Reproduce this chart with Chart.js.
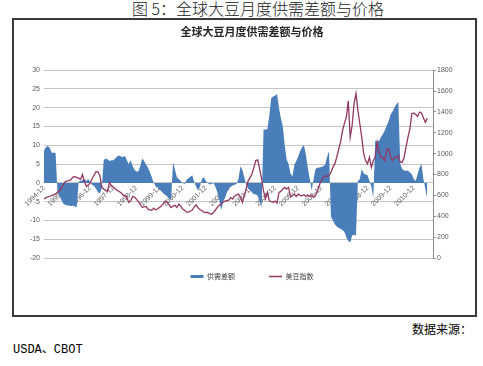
<!DOCTYPE html>
<html>
<head>
<meta charset="utf-8">
<script src="https://cdn.jsdelivr.net/npm/chart.js@4.4.0/dist/chart.umd.min.js"></script>
<style>
  body { margin: 0; width: 483px; height: 366px; background: #fff; overflow: hidden; position: relative; font-family: 'Noto Sans CJK SC', sans-serif; }
  #page-title { position: absolute; left: 132px; top: -1px; font-size: 16px; font-weight: 300; line-height: 18px; color: #222; white-space: nowrap; }
  #frame { position: absolute; left: 12px; top: 18px; width: 465px; height: 299px; box-sizing: border-box; border: 2px solid #3a3a3a; }
  #chart { position: absolute; left: 14px; top: 21px; }
  #source { position: absolute; left: 412px; top: 321px; font-size: 12px; line-height: 16px; color: #000; white-space: nowrap; }
  #source-names { position: absolute; left: 13px; top: 343px; font-family: 'Liberation Mono', 'Noto Sans CJK SC', monospace; font-size: 12px; line-height: 14px; color: #000; white-space: nowrap; }
</style>
</head>
<body>
<div id="page-title">图 5：全球大豆月度供需差额与价格</div>
<div id="frame"></div>
<canvas id="chart" width="462" height="294"></canvas>
<div id="source">数据来源：</div>
<div id="source-names">USDA、CBOT</div>
<script>
// year labels shown on the category axis
const tickLabels = ['1994-12', '1995-12', '1996-12', '1997-12', '1998-12', '1999-12', '2000-12', '2001-12',
  '2002-12', '2003-12', '2004-12', '2005-12', '2006-12', '2007-12', '2008-12', '2009-12', '2010-12']

// monthly categories, 1994-12 .. 2011-10
const months = []
for (let y = 1994, m = 12; months.length < 203;) {
  months.push(`${y}-${String(m).padStart(2, '0')}`)
  m++
  if (m > 12) { m = 1; y++ }
}

// 供需差额 (left axis)
const supplyGap = [
  8.6, 9.5, 9.8, 9.3, 8.0, 8.0, 8.0, -2.5, -3.5, -4.5,
  -5.5, -5.8, -6.0, -6.0, -6.2, -6.0, -6.3, -6.5, 0.3, 0.5,
  0.8, 1.0, 0.5, 1.0, 0.2, -0.5, -0.8, -1.5, -2.5, -2.8,
  -1.5, 6.0, 6.5, 6.3, 5.8, 6.0, 6.0, 6.5, 7.0, 7.3,
  7.0, 6.8, 7.2, 6.0, 5.0, 6.0, 4.5, 3.5, 3.0, 3.0,
  4.5, 6.5, 5.8, 4.8, 4.0, 2.8, 1.5, 0.0, -0.8, -1.2,
  -1.8, -2.2, -2.8, -3.2, -3.6, -4.2, -4.5, 5.5, 3.5, 1.5,
  1.0, 0.5, 0.0, -0.4, 0.8, 1.2, 1.6, 2.0, 0.3, -1.0,
  -2.0, -1.0, 1.0, 1.5, 0.5, 0.0, -0.4, -0.3, 0.0, -1.0,
  -2.5, -4.5, -7.3, -5.0, -4.0, -2.5, -1.5, -1.0, -0.7, -0.5,
  -0.3, 1.0, 4.4, 3.5, 1.5, -0.5, -1.5, -2.0, -2.5, -3.0,
  -3.0, -3.5, -5.0, -6.5, 14.2, 14.2, 14.3, 18.0, 22.5, 23.0,
  23.2, 23.7, 20.0, 17.2, 15.0, 10.0, 6.2, 5.0, 2.5, 1.7,
  4.8, 5.8, 7.0, 8.5, 9.5, 10.0, 7.5, 4.0, 1.0, -2.0,
  1.0, 3.7, 4.0, 4.1, 4.2, 4.4, 4.8, 6.9, 8.5, -9.0,
  -10.0, -11.0, -11.6, -12.0, -12.2, -12.6, -13.0, -14.5, -15.5, -15.9,
  -14.0, -13.8, -14.0, 0.5, 1.0, 3.7, 2.5, 2.2, 2.0, 0.5,
  -1.0, -4.0, 11.3, 11.0, 11.2, 12.2, 13.0, 14.0, 15.3, 16.5,
  18.2, 19.0, 20.0, 21.0, 21.5, 5.0, 3.7, 3.3, 3.2, 3.2,
  2.8, 2.3, 1.0, 0.5, 2.3, 4.0, 5.0, 1.0, -1.5, -4.3
]

// 美豆指数 (right axis)
const soyIndex = [
  565, 578, 585, 592, 600, 605, 615, 630, 645, 670,
  700, 730, 740, 742, 750, 775, 780, 772, 765, 755,
  800, 730, 690, 700, 720, 760, 795, 828, 826, 790,
  683, 660, 648, 638, 725, 695, 680, 662, 650, 638,
  625, 605, 595, 582, 532, 548, 590, 585, 565, 540,
  515, 486, 490, 494, 468, 462, 458, 478, 460, 472,
  485, 500, 520, 545, 535, 510, 484, 498, 505, 484,
  516, 498, 470, 458, 440, 440, 450, 460, 490, 510,
  480, 465, 455, 440, 436, 436, 425, 420, 436, 460,
  485, 505, 520, 535, 545, 550, 555, 578, 565, 595,
  605, 613, 581, 532, 600, 661, 740, 770, 805, 869,
  934, 940, 850, 760, 640, 565, 629, 549, 540, 535,
  545, 526, 629, 638, 661, 677, 661, 677, 585, 597,
  613, 590, 613, 600, 597, 606, 590, 605, 590, 600,
  581, 597, 645, 700, 740, 773, 789, 780, 790, 821,
  869, 902, 966, 1040, 1110, 1220, 1290, 1351, 1505, 1158,
  1270, 1479, 1576, 1415, 1287, 1158, 1000, 934, 902, 966,
  869, 934, 966, 1110, 1014, 966, 960, 934, 1046, 1046,
  966, 934, 966, 960, 982, 917, 917, 966, 1062, 1159,
  1238, 1383, 1390, 1376, 1358, 1399, 1390, 1345, 1300, 1340
]

const gapColor = '#4a7ebb'
const indexColor = '#943762'
const tickFont = { family: 'Liberation Sans', size: 7 }
const tickColor = '#595959'
const legendLift = 19

// the legend padding also sets its height, so pull the box back up under the plot
const liftLegend = {
  id: 'liftLegend',
  afterLayout (chart) {
    chart.legend.top -= legendLift
    chart.legend.bottom -= legendLift
  }
}

const chart = new Chart(document.getElementById('chart'), {
  type: 'line',
  data: {
    labels: months,
    datasets: [
      {
        label: '供需差额',
        data: supplyGap,
        yAxisID: 'y',
        fill: 'origin',
        backgroundColor: gapColor,
        borderColor: 'rgba(0,0,0,0)',
        borderWidth: 0,
        pointRadius: 0,
        order: 1
      },
      {
        label: '美豆指数',
        data: soyIndex,
        yAxisID: 'y1',
        fill: false,
        borderColor: indexColor,
        borderWidth: 1.3,
        pointRadius: 0,
        order: 0
      }
    ]
  },
  options: {
    responsive: false,
    animation: false,
    layout: { padding: { left: 14, right: 0, top: 0, bottom: 6 } },
    plugins: {
      title: {
        display: true,
        text: '全球大豆月度供需差额与价格',
        font: { family: 'Noto Sans CJK SC', size: 11, weight: 'bold' },
        color: '#262626',
        padding: { top: 4, bottom: 32 }
      },
      legend: {
        position: 'bottom',
        reverse: true,
        labels: {
          usePointStyle: true,
          pointStyle: 'line',
          pointStyleWidth: 13,
          padding: 34,
          font: { family: 'Noto Sans CJK SC', size: 7 },
          color: '#404040',
          generateLabels (chart) {
            const items = Chart.defaults.plugins.legend.labels.generateLabels(chart)
            items.forEach(item => {
              if (item.datasetIndex === 0) {
                item.strokeStyle = gapColor
                item.lineWidth = 3
              } else {
                item.lineWidth = 1.5
              }
            })
            return items
          }
        }
      },
      tooltip: { enabled: false }
    },
    scales: {
      x: {
        position: { y: 0 },
        grid: { display: false, drawTicks: false },
        border: { display: false },
        ticks: {
          autoSkip: false,
          minRotation: 45,
          maxRotation: 45,
          padding: 1,
          font: tickFont,
          color: tickColor,
          callback (value) {
            const m = months[value]
            return tickLabels.includes(m) ? m : ''
          }
        },
        afterFit (scale) { scale.height = 0 }
      },
      y: {
        position: 'left',
        min: -20,
        max: 30,
        ticks: { stepSize: 5, padding: 4, font: tickFont, color: tickColor },
        grid: { color: '#c4c4c4', drawTicks: false },
        border: { display: false },
        afterFit (scale) { scale.width = 16 }
      },
      y1: {
        position: 'right',
        min: 0,
        max: 1800,
        ticks: {
          stepSize: 200,
          padding: 1,
          font: tickFont,
          color: tickColor,
          callback: (value) => String(value)
        },
        grid: { drawOnChartArea: false, color: '#8c8c8c', tickLength: 3 },
        border: { color: '#8c8c8c' },
        afterFit (scale) { scale.width = 43 }
      }
    }
  },
  plugins: [liftLegend]
})
</script>
</body>
</html>
